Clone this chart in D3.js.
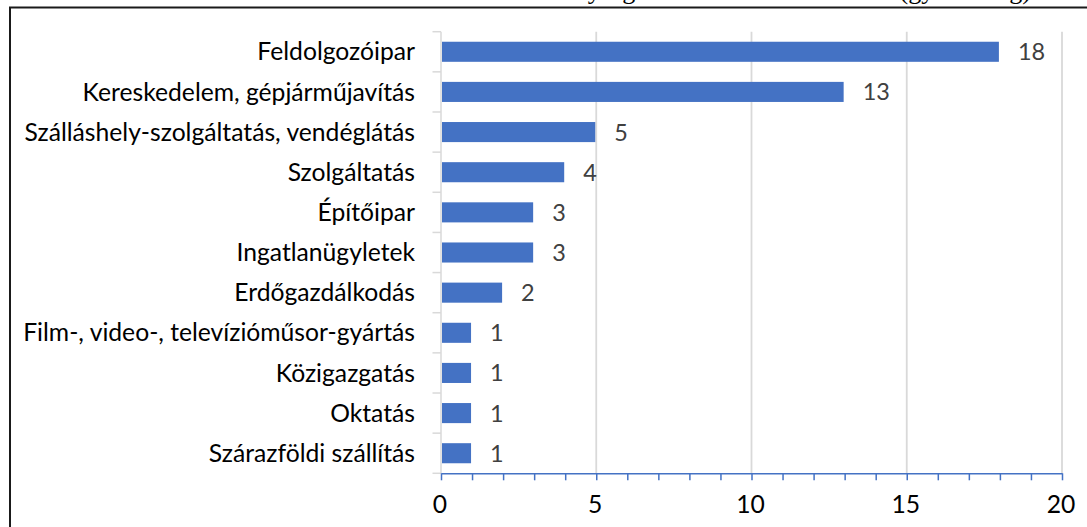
<!DOCTYPE html>
<html>
<head>
<meta charset="utf-8">
<script src="https://cdn.jsdelivr.net/npm/d3@7"></script>
<style>
  html, body { margin: 0; padding: 0; background: #fff; overflow: hidden; }
  svg { display: block; }
</style>
</head>
<body>
<svg id="chart" width="1087" height="527"></svg>
<script>
// Number of businesses by sector
const categories = [
  "Feldolgozóipar",
  "Kereskedelem, gépjárműjavítás",
  "Szálláshely-szolgáltatás, vendéglátás",
  "Szolgáltatás",
  "Építőipar",
  "Ingatlanügyletek",
  "Erdőgazdálkodás",
  "Film-, video-, televízióműsor-gyártás",
  "Közigazgatás",
  "Oktatás",
  "Szárazföldi szállítás"
];
const values = [18, 13, 5, 4, 3, 3, 2, 1, 1, 1, 1];
const xTickLabels = [0, 5, 10, 15, 20];
const xMinorTicks = d3.range(0, 21, 1);
const titleText = "A vállalkozások tevékenységi körök szerinti eloszlása (gyakoriság)";

const svg = d3.select("#chart");
const sans = "Lato, 'Open Sans', 'Liberation Sans', sans-serif";

const plot = { left: 441, right: 1062, top: 31.7, bottom: 473.3 };

const x = d3.scaleLinear().domain([0, 20]).range([plot.left, plot.right]);
const y = d3.scaleBand().domain(categories).range([plot.top, plot.bottom])
  .paddingInner(0.5).paddingOuter(0.25);

// Caption above the frame; the page starts just below its baseline
svg.append("text")
  .attr("x", 1031).attr("y", -1)
  .attr("text-anchor", "end")
  .attr("font-family", "'Liberation Serif', 'Times New Roman', serif")
  .attr("font-size", 26)
  .attr("fill", "#000")
  .text(titleText);

// Chart frame
svg.append("rect")
  .attr("x", 10).attr("y", 7.5)
  .attr("width", 1200).attr("height", 600)
  .attr("fill", "none").attr("stroke", "#1a1a1a").attr("stroke-width", 2);

// Vertical gridlines
svg.append("g").selectAll("line")
  .data(xTickLabels.filter(d => d > 0))
  .join("line")
  .attr("x1", d => x(d)).attr("x2", d => x(d))
  .attr("y1", plot.top).attr("y2", plot.bottom)
  .attr("stroke", "#d9d9d9").attr("stroke-width", 1.8);

// Category axis: line plus ticks on band boundaries
const step = y.step();
const boundaries = d3.range(categories.length + 1).map(i => plot.top + i * step);
const catAxis = svg.append("g");
catAxis.append("line")
  .attr("x1", plot.left).attr("x2", plot.left)
  .attr("y1", plot.top).attr("y2", plot.bottom)
  .attr("stroke", "#d9d9d9").attr("stroke-width", 1.5);
catAxis.selectAll("line.tick")
  .data(boundaries)
  .join("line").attr("class", "tick")
  .attr("x1", plot.left - 8.5).attr("x2", plot.left)
  .attr("y1", d => d).attr("y2", d => d)
  .attr("stroke", "#d9d9d9").attr("stroke-width", 1.5);

// Category labels, sized so the longest one spans its slot
const labels = svg.append("g").selectAll("text")
  .data(categories)
  .join("text")
  .attr("x", 415)
  .attr("y", d => y(d) + y.bandwidth() / 2)
  .attr("dy", "0.35em")
  .attr("text-anchor", "end")
  .attr("font-family", sans)
  .attr("font-size", 20)
  .attr("fill", "#000")
  .text(d => d);
let maxW = 0;
labels.each(function () { maxW = Math.max(maxW, this.getComputedTextLength()); });
const labelSize = 20 * 392 / maxW;
labels.attr("font-size", labelSize);

// Bars
svg.append("g").selectAll("rect")
  .data(values)
  .join("rect")
  .attr("x", x(0) + 1)
  .attr("y", (d, i) => y(categories[i]))
  .attr("width", d => x(d) - x(0) - 2)
  .attr("height", y.bandwidth())
  .attr("fill", "#4472c4");

// Value labels
svg.append("g").selectAll("text")
  .data(values)
  .join("text")
  .attr("x", d => x(d) + 18)
  .attr("y", (d, i) => y(categories[i]) + y.bandwidth() / 2)
  .attr("dy", "0.36em")
  .attr("font-family", sans)
  .attr("font-size", labelSize * 0.95)
  .attr("fill", "#404040")
  .text(d => d);

// Value axis: blue line with a tick at every unit
const xAxis = svg.append("g")
  .attr("transform", `translate(0,${plot.bottom})`)
  .call(d3.axisBottom(x).tickValues(xMinorTicks).tickSize(7).tickSizeOuter(0).tickFormat(""));
xAxis.select(".domain").attr("stroke", "#4472c4").attr("stroke-width", 1.5);
xAxis.selectAll(".tick line").attr("stroke", "#4472c4").attr("stroke-width", 1.5);

// Value axis labels
svg.append("g").selectAll("text")
  .data(xTickLabels)
  .join("text")
  .attr("x", d => x(d) - 1)
  .attr("y", 513)
  .attr("text-anchor", "middle")
  .attr("font-family", sans)
  .attr("font-size", labelSize)
  .attr("fill", "#000")
  .text(d => d);
</script>
</body>
</html>
